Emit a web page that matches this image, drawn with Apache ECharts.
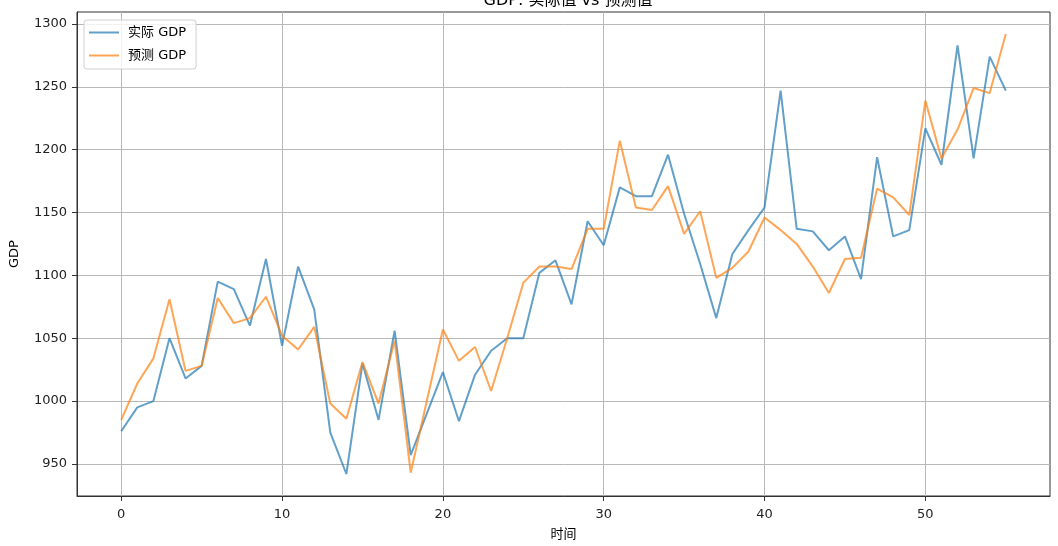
<!DOCTYPE html>
<html>
<head>
<meta charset="utf-8">
<script src="https://cdn.jsdelivr.net/npm/echarts@6/dist/echarts.min.js"></script>
<style>html,body{margin:0;padding:0;background:#fff;}#c{width:1058px;height:546px;}</style>
</head>
<body>
<div id="c"></div>
<script>
const titleText = 'GDP: 实际值 vs 预测值';
const seriesNames = ['实际 GDP', '预测 GDP'];
const xTicks = [0, 10, 20, 30, 40, 50];
const yTicks = [950, 1000, 1050, 1100, 1150, 1200, 1250, 1300];
const actual = [976, 995, 1000, 1050, 1018, 1028, 1095, 1089, 1060, 1113,
  1044, 1107, 1073, 975, 942, 1030, 985, 1056, 957, 990,
  1023, 984, 1021, 1040, 1050, 1050, 1102, 1112, 1077, 1143,
  1124, 1170, 1163, 1163, 1196, 1149, 1109, 1066, 1117, 1136,
  1154, 1247, 1137, 1135, 1120, 1131, 1097, 1194, 1131, 1136,
  1217, 1188, 1283, 1193, 1274, 1247];
const predicted = [985, 1014, 1034, 1081, 1024, 1028, 1082, 1062, 1066, 1083,
  1052, 1041, 1059, 998, 986, 1031, 998, 1048, 943, 1000,
  1057, 1032, 1043, 1008, 1050, 1094, 1107, 1107, 1105, 1137,
  1137, 1207, 1154, 1152, 1171, 1133, 1151, 1098, 1106, 1119,
  1146, 1136, 1125, 1107, 1086, 1113, 1114, 1169, 1162, 1148,
  1239, 1193, 1216, 1249, 1245, 1292];

const font = '"DejaVu Sans", "Noto Sans CJK SC", sans-serif';
const toPairs = arr => arr.map((v, i) => [i, v]);
const n = actual.length;
const allV = actual.concat(predicted);
const vmin = Math.min(...allV), vmax = Math.max(...allV);
const pad = (vmax - vmin) * 0.05;
const xpad = (n - 1) * 0.05;

const chart = echarts.init(document.getElementById('c'));
chart.setOption({
  animation: false,
  backgroundColor: '#fff',
  title: {
    text: titleText, left: 563, top: -12, textAlign: 'center',
    textStyle: { fontFamily: font, fontSize: 16, fontWeight: 'normal', color: '#000' }
  },
  legend: {
    orient: 'vertical', left: 84, top: 20, itemWidth: 30, itemHeight: 2, itemGap: 10,
    icon: 'rect',
    padding: [6, 10, 7, 5],
    backgroundColor: 'rgba(255,255,255,0.8)', borderColor: '#d0d0d0', borderWidth: 1, borderRadius: 3,
    textStyle: { fontFamily: font, fontSize: 13, color: '#000', padding: [0, 0, 0, 4] },
    data: seriesNames
  },
  grid: { left: 77, right: 8, top: 12, bottom: 50, show: true, borderColor: '#333', borderWidth: 1, containLabel: false },
  xAxis: {
    type: 'value', min: -xpad, max: (n - 1) + xpad,
    name: '时间', nameLocation: 'middle', nameGap: 32,
    nameTextStyle: { fontFamily: font, fontSize: 13, color: '#000' },
    axisLine: { show: true, onZero: false, lineStyle: { color: '#333' } },
    axisTick: { show: true, length: 5, customValues: xTicks, lineStyle: { color: '#333' } },
    axisLabel: { customValues: xTicks, margin: 12, fontFamily: font, fontSize: 13, color: '#222' },
    splitLine: { show: true, lineStyle: { color: '#b8b8b8', width: 1 } }
  },
  yAxis: {
    type: 'value', min: vmin - pad, max: vmax + pad,
    name: 'GDP', nameLocation: 'middle', nameGap: 56,
    nameTextStyle: { fontFamily: font, fontSize: 13, color: '#000' },
    axisLine: { show: true, onZero: false, lineStyle: { color: '#333' } },
    axisTick: { show: true, length: 5, customValues: yTicks, lineStyle: { color: '#333' } },
    axisLabel: { customValues: yTicks, margin: 10, fontFamily: font, fontSize: 13, color: '#222',
      formatter: v => String(Math.round(v)) },
    splitLine: { show: true, lineStyle: { color: '#b8b8b8', width: 1 } }
  },
  series: [
    { name: seriesNames[0], type: 'line', data: toPairs(actual), symbol: 'none', showSymbol: false,
      lineStyle: { color: '#1f77b4', width: 2, opacity: 0.7 }, itemStyle: { color: 'rgba(31,119,180,0.7)' } },
    { name: seriesNames[1], type: 'line', data: toPairs(predicted), symbol: 'none', showSymbol: false,
      lineStyle: { color: '#ff7f0e', width: 2, opacity: 0.7 }, itemStyle: { color: 'rgba(255,127,14,0.7)' } }
  ]
});
</script>
</body>
</html>
